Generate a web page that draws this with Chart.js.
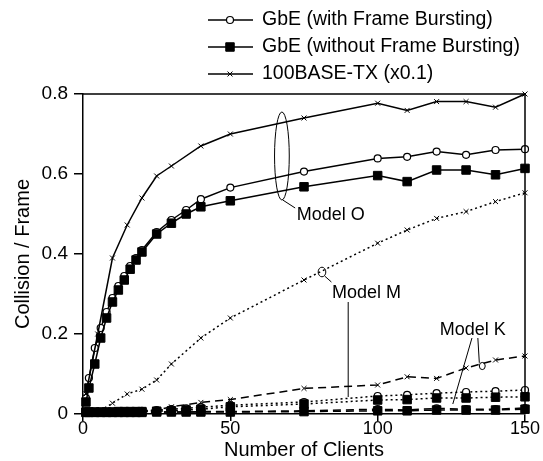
<!DOCTYPE html>
<html><head><meta charset="utf-8">
<script src="https://cdn.jsdelivr.net/npm/chart.js@4"></script>
<style>html,body{margin:0;padding:0;background:#fff}</style>
</head><body>
<canvas id="c" width="543" height="461"></canvas>
<script>
// ---- data ----
const clients = [1,2,4,6,8,10,12,14,16,18,20,25,30,35,40,50,75,100,110,120,130,140,150];
const txClients = [1,5,10,15,20,25,30,40,50,75,100,110,120,130,140,150];

// Model O (solid)
const oWithFB    = [0.04,0.09,0.165,0.215,0.255,0.29,0.32,0.345,0.37,0.39,0.41,0.455,0.485,0.51,0.537,0.566,0.606,0.639,0.643,0.656,0.648,0.66,0.662];
const oWithoutFB = [0.03,0.065,0.125,0.19,0.24,0.28,0.31,0.335,0.362,0.385,0.405,0.45,0.477,0.50,0.518,0.533,0.568,0.596,0.581,0.61,0.61,0.598,0.614];
const o100       = [0.05,0.2,0.39,0.4725,0.54,0.595,0.62,0.67,0.70,0.74,0.777,0.759,0.781,0.781,0.767,0.80];

// Model M (dotted)
const mWithFB    = [0.004,0.004,0.004,0.005,0.005,0.005,0.006,0.006,0.006,0.007,0.008,0.01,0.012,0.014,0.017,0.022,0.03,0.045,0.048,0.052,0.055,0.057,0.06];
const mWithoutFB = [0.005,0.005,0.005,0.005,0.005,0.005,0.006,0.006,0.006,0.006,0.006,0.007,0.008,0.01,0.012,0.018,0.025,0.035,0.036,0.04,0.04,0.042,0.043];
const m100       = [0,0.005,0.027,0.05,0.062,0.085,0.125,0.19,0.24,0.335,0.427,0.46,0.489,0.506,0.531,0.553];

// Model K (dashed)
const kWithFB    = [0.003,0.003,0.003,0.003,0.003,0.003,0.004,0.004,0.004,0.004,0.004,0.005,0.005,0.005,0.006,0.006,0.008,0.012,0.01,0.014,0.012,0.012,0.015];
const kWithoutFB = [0.004,0.004,0.004,0.004,0.004,0.004,0.004,0.004,0.004,0.004,0.004,0.005,0.005,0.005,0.005,0.005,0.006,0.008,0.008,0.01,0.01,0.01,0.012];
const k100       = [0,0,0.002,0.004,0.006,0.01,0.018,0.029,0.036,0.064,0.0725,0.093,0.089,0.115,0.135,0.145];

const xTicks = [0,50,100,150];
const yTicks = [0,0.2,0.4,0.6,0.8];
const legendLabels = ['GbE (with Frame Bursting)','GbE (without Frame Bursting)','100BASE-TX (x0.1)'];
const modelLabels = ['Model O','Model M','Model K'];

// ---- styles ----
const FONT = '"Liberation Sans", Arial, sans-serif';
const styleWith = {pointStyle:'circle', pointRadius:3.5, pointBackgroundColor:'#fff', pointBorderColor:'#000', pointBorderWidth:1.2};
const styleWithout = {pointStyle:'rect', pointRadius:6, pointBackgroundColor:'#000', pointBorderColor:'#000', pointBorderWidth:1};
const style100 = {pointStyle:'crossRot', pointRadius:3.5, pointBackgroundColor:'#000', pointBorderColor:'#000', pointBorderWidth:1};
const dashes = {O:[], M:[2,3], K:[8,5]};

function ds(xs, ys, st, dash, label){
  return Object.assign({
    label, data: xs.map((x,i)=>({x, y: ys[i]})),
    borderColor:'#000', borderWidth:1.5, borderDash:dash, tension:0, fill:false, clip:false
  }, st);
}
const datasets = [
  ds(clients, kWithoutFB, styleWithout, dashes.K, 'K w/o'),
  ds(clients, kWithFB, styleWith, dashes.K, 'K with'),
  ds(txClients, k100, style100, dashes.K, 'K 100'),
  ds(clients, mWithoutFB, styleWithout, dashes.M, 'M w/o'),
  ds(clients, mWithFB, styleWith, dashes.M, 'M with'),
  ds(txClients, m100, style100, dashes.M, 'M 100'),
  ds(txClients, o100, style100, dashes.O, 'O 100'),
  ds(clients, oWithoutFB, styleWithout, dashes.O, 'O w/o'),
  ds(clients, oWithFB, styleWith, dashes.O, 'O with'),
];

const extras = {
  id:'extras',
  afterDraw(chart){
    const {ctx, chartArea:a, scales:{x, y}} = chart;
    const px = v => x.getPixelForValue(v), py = v => y.getPixelForValue(v);
    ctx.save();
    // frame
    ctx.strokeStyle = '#000'; ctx.lineWidth = 1.5; ctx.setLineDash([]);
    ctx.beginPath(); ctx.moveTo(a.left, a.top); ctx.lineTo(a.right, a.top); ctx.lineTo(a.right, a.bottom); ctx.stroke();

    // annotations
    ctx.lineWidth = 1;
    const line = (x1,y1,x2,y2)=>{ctx.beginPath();ctx.moveTo(px(x1),py(y1));ctx.lineTo(px(x2),py(y2));ctx.stroke();};
    const ell = (cx,cy,rx,ry)=>{ctx.beginPath();ctx.ellipse(px(cx),py(cy),Math.abs(px(cx+rx)-px(cx)),Math.abs(py(cy+ry)-py(cy)),0,0,Math.PI*2);ctx.stroke();};
    ell(67.5,0.645,2.5,0.11);
    line(67.8,0.535,72,0.515);
    ell(81.1,0.355,1.3,0.012);
    line(82,0.345,84.3,0.33);
    line(90,0.28,90,0.0425);
    line(132,0.19,125.5,0.025);
    line(134,0.19,134.5,0.128);
    ell(135.5,0.12,1,0.009);

    ctx.fillStyle = '#000';
    ctx.font = '18px ' + FONT;
    ctx.textAlign = 'left'; ctx.textBaseline = 'alphabetic';
    ctx.fillText(modelLabels[0], px(72.5), py(0.485));
    ctx.fillText(modelLabels[1], px(84.5), py(0.29));
    ctx.fillText(modelLabels[2], px(121.1), py(0.1975));

    // legend
    const styles = [styleWith, styleWithout, style100];
    const rowsY = [20, 47, 74];
    ctx.font = '19.5px ' + FONT; ctx.textBaseline = 'middle';
    styles.forEach((st,i)=>{
      const yy = rowsY[i];
      ctx.lineWidth = 1.5; ctx.strokeStyle = '#000';
      ctx.beginPath(); ctx.moveTo(208,yy); ctx.lineTo(253,yy); ctx.stroke();
      ctx.fillStyle = st.pointBackgroundColor; ctx.strokeStyle = '#000'; ctx.lineWidth = st.pointBorderWidth;
      Chart.helpers.drawPoint(ctx, {pointStyle:st.pointStyle, radius: st.pointRadius, rotation:0, borderWidth: st.pointBorderWidth}, 230, yy);
      ctx.fillStyle = '#000';
      ctx.fillText(legendLabels[i], 262, yy);
    });
    ctx.restore();
  }
};

new Chart(document.getElementById('c'), {
  type:'line',
  data:{datasets},
  plugins:[extras],
  options:{
    responsive:false, animation:false, devicePixelRatio:1,
    layout:{padding:{left:0,right:18,top:94,bottom:0}},
    plugins:{legend:{display:false}, tooltip:{enabled:false}},
    scales:{
      x:{type:'linear', min:0, max:150,
        afterBuildTicks: s => { s.ticks = xTicks.map(v=>({value:v})); },
        afterFit: s => { s.height = 47; },
        grid:{drawOnChartArea:false, drawTicks:true, tickLength:7, color:'#000', lineWidth:1.5},
        border:{display:true, color:'#000', width:1.5},
        ticks:{color:'#000', padding:-1, font:{family:FONT, size:18, lineHeight:1}},
        title:{display:true, text:'Number of Clients', color:'#000', padding:{top:0,bottom:1}, font:{family:FONT, size:20, lineHeight:1}}
      },
      y:{type:'linear', min:0, max:0.8,
        afterBuildTicks: s => { s.ticks = yTicks.map(v=>({value:v})); },
        afterFit: s => { s.width = 83; },
        grid:{drawOnChartArea:false, drawTicks:true, tickLength:9, color:'#000', lineWidth:1.5},
        border:{display:true, color:'#000', width:1.5},
        ticks:{color:'#000', padding:6, font:{family:FONT, size:19}, callback: v => String(v)},
        title:{display:true, text:'Collision / Frame', color:'#000', padding:{top:11,bottom:0}, font:{family:FONT, size:20}}
      }
    }
  }
});
</script>
</body></html>
